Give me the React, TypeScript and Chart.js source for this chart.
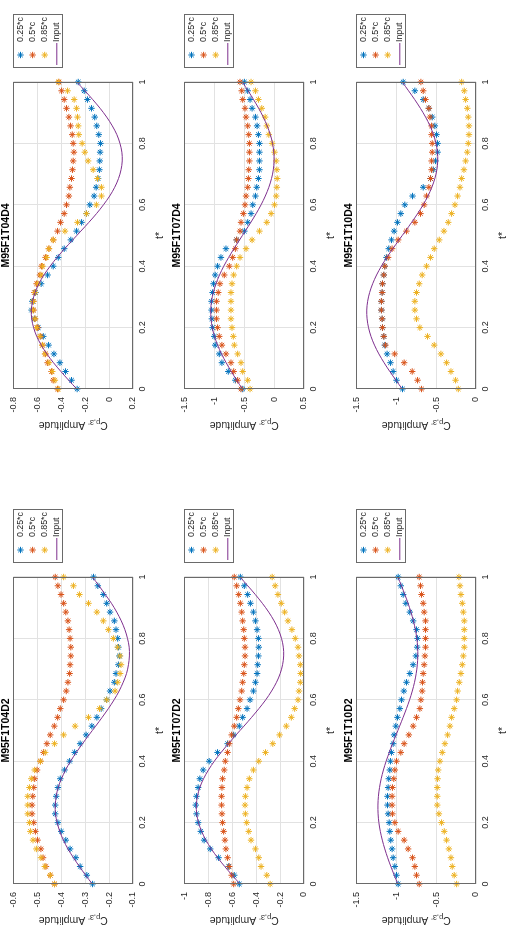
import React, { useEffect, useRef } from 'react';
import { Chart, registerables } from 'chart.js';
import { drawPoint } from 'chart.js/helpers';

Chart.register(...registerables);

// ---------------- data ----------------
const T = [0, 0.0286, 0.0571, 0.0857, 0.1143, 0.1429, 0.1714, 0.2, 0.2286, 0.2571, 0.2857, 0.3143, 0.3429, 0.3714, 0.4, 0.4286, 0.4571, 0.4857, 0.5143, 0.5429, 0.5714, 0.6, 0.6286, 0.6571, 0.6857, 0.7143, 0.7429, 0.7714, 0.8, 0.8286, 0.8571, 0.8857, 0.9143, 0.9429, 0.9714, 1];

const SERIES_LABELS = ['0.25*c', '0.5*c', '0.85*c', 'Input'];
const X_LABEL = 't*';
const Y_LABEL_MAIN = 'C';
const Y_LABEL_SUB = "p,3'";
const Y_LABEL_TAIL = ' Amplitude';
const X_TICKS = [0, 0.2, 0.4, 0.6, 0.8, 1];

// M95F1T04D2
const T04D2_025 = [-0.269, -0.293, -0.321, -0.339, -0.363, -0.381, -0.4, -0.414, -0.425, -0.425, -0.421, -0.414, -0.404, -0.386, -0.365, -0.344, -0.321, -0.296, -0.272, -0.251, -0.233, -0.21, -0.196, -0.178, -0.171, -0.161, -0.157, -0.161, -0.164, -0.171, -0.178, -0.196, -0.21, -0.224, -0.247, -0.265];
const T04D2_050 = [-0.428, -0.446, -0.464, -0.476, -0.485, -0.499, -0.508, -0.515, -0.522, -0.522, -0.519, -0.515, -0.511, -0.501, -0.487, -0.474, -0.46, -0.446, -0.429, -0.415, -0.404, -0.39, -0.379, -0.372, -0.365, -0.363, -0.36, -0.36, -0.363, -0.367, -0.372, -0.381, -0.39, -0.401, -0.414, -0.425];
const T04D2_085 = [-0.428, -0.446, -0.469, -0.485, -0.504, -0.518, -0.529, -0.533, -0.54, -0.54, -0.54, -0.533, -0.525, -0.511, -0.487, -0.467, -0.428, -0.39, -0.342, -0.286, -0.24, -0.21, -0.175, -0.164, -0.154, -0.15, -0.154, -0.164, -0.182, -0.203, -0.224, -0.251, -0.286, -0.324, -0.349, -0.39];
const T04D2_IN = [-0.27, -0.298, -0.324, -0.349, -0.372, -0.391, -0.406, -0.417, -0.424, -0.425, -0.421, -0.413, -0.399, -0.382, -0.361, -0.337, -0.311, -0.284, -0.256, -0.229, -0.203, -0.179, -0.158, -0.141, -0.127, -0.119, -0.115, -0.116, -0.123, -0.134, -0.149, -0.168, -0.19, -0.216, -0.242, -0.27];

// M95F1T07D2
const T07D2_025 = [-0.541, -0.583, -0.63, -0.714, -0.784, -0.835, -0.863, -0.885, -0.899, -0.905, -0.899, -0.885, -0.871, -0.843, -0.793, -0.723, -0.639, -0.588, -0.541, -0.513, -0.476, -0.451, -0.423, -0.406, -0.392, -0.387, -0.381, -0.378, -0.381, -0.392, -0.406, -0.423, -0.448, -0.471, -0.499, -0.532];
const T07D2_050 = [-0.588, -0.605, -0.625, -0.639, -0.653, -0.661, -0.672, -0.681, -0.686, -0.689, -0.689, -0.686, -0.681, -0.667, -0.658, -0.639, -0.625, -0.605, -0.583, -0.563, -0.549, -0.535, -0.521, -0.513, -0.504, -0.499, -0.493, -0.493, -0.499, -0.504, -0.513, -0.521, -0.532, -0.546, -0.563, -0.583];
const T07D2_085 = [-0.283, -0.311, -0.359, -0.378, -0.406, -0.443, -0.462, -0.479, -0.49, -0.493, -0.49, -0.476, -0.457, -0.423, -0.378, -0.322, -0.261, -0.204, -0.148, -0.106, -0.078, -0.05, -0.042, -0.031, -0.028, -0.031, -0.042, -0.05, -0.073, -0.101, -0.134, -0.162, -0.19, -0.218, -0.241, -0.266];
const T07D2_IN = [-0.535, -0.6, -0.663, -0.722, -0.775, -0.82, -0.856, -0.882, -0.897, -0.9, -0.891, -0.871, -0.84, -0.799, -0.75, -0.693, -0.632, -0.568, -0.502, -0.438, -0.377, -0.32, -0.271, -0.23, -0.199, -0.179, -0.17, -0.173, -0.188, -0.214, -0.25, -0.295, -0.348, -0.407, -0.47, -0.535];

// M95F1T10D2
const T10D2_025 = [-0.976, -0.997, -1.018, -1.039, -1.052, -1.069, -1.081, -1.089, -1.102, -1.11, -1.11, -1.102, -1.094, -1.081, -1.073, -1.06, -1.039, -1.027, -1.006, -0.985, -0.955, -0.934, -0.905, -0.872, -0.83, -0.788, -0.754, -0.738, -0.733, -0.746, -0.788, -0.83, -0.88, -0.913, -0.943, -0.976];
const T10D2_050 = [-0.712, -0.746, -0.767, -0.796, -0.851, -0.901, -0.976, -1.018, -1.048, -1.052, -1.052, -1.048, -1.031, -1.018, -0.997, -0.943, -0.901, -0.842, -0.788, -0.746, -0.704, -0.691, -0.675, -0.671, -0.662, -0.65, -0.641, -0.633, -0.633, -0.633, -0.633, -0.65, -0.662, -0.683, -0.696, -0.712];
const T10D2_085 = [-0.243, -0.273, -0.298, -0.314, -0.34, -0.369, -0.398, -0.432, -0.465, -0.486, -0.486, -0.486, -0.482, -0.474, -0.453, -0.423, -0.39, -0.356, -0.327, -0.306, -0.273, -0.243, -0.231, -0.21, -0.189, -0.172, -0.159, -0.147, -0.147, -0.147, -0.147, -0.159, -0.172, -0.189, -0.201, -0.214];
const T10D2_IN = [-0.98, -1.025, -1.068, -1.108, -1.144, -1.175, -1.2, -1.218, -1.228, -1.23, -1.224, -1.21, -1.189, -1.161, -1.127, -1.088, -1.047, -1.002, -0.958, -0.914, -0.872, -0.833, -0.799, -0.771, -0.75, -0.736, -0.73, -0.732, -0.742, -0.76, -0.785, -0.816, -0.852, -0.892, -0.935, -0.98];

// M95F1T04D4
const T04D4_025 = [-0.267, -0.314, -0.364, -0.411, -0.461, -0.506, -0.55, -0.592, -0.625, -0.648, -0.642, -0.615, -0.568, -0.514, -0.467, -0.425, -0.375, -0.32, -0.272, -0.23, -0.189, -0.161, -0.125, -0.108, -0.092, -0.081, -0.078, -0.075, -0.072, -0.086, -0.103, -0.12, -0.147, -0.181, -0.208, -0.258];
const T04D4_050 = [-0.431, -0.467, -0.481, -0.514, -0.531, -0.556, -0.572, -0.597, -0.619, -0.631, -0.633, -0.625, -0.606, -0.578, -0.564, -0.531, -0.503, -0.467, -0.431, -0.406, -0.375, -0.356, -0.336, -0.328, -0.314, -0.306, -0.3, -0.294, -0.3, -0.308, -0.322, -0.336, -0.356, -0.375, -0.397, -0.419];
const T04D4_085 = [-0.425, -0.453, -0.475, -0.503, -0.536, -0.558, -0.578, -0.606, -0.619, -0.636, -0.633, -0.619, -0.597, -0.569, -0.556, -0.522, -0.503, -0.467, -0.369, -0.264, -0.189, -0.106, -0.064, -0.064, -0.097, -0.133, -0.175, -0.203, -0.225, -0.253, -0.258, -0.264, -0.272, -0.292, -0.347, -0.425];
const T04D4_IN = [-0.27, -0.338, -0.403, -0.465, -0.52, -0.567, -0.605, -0.631, -0.647, -0.65, -0.64, -0.619, -0.587, -0.545, -0.493, -0.435, -0.371, -0.304, -0.236, -0.169, -0.105, -0.047, 0.005, 0.047, 0.079, 0.1, 0.11, 0.107, 0.091, 0.065, 0.027, -0.02, -0.075, -0.137, -0.202, -0.27];

// M95F1T07D4
const T07D4_025 = [-0.525, -0.648, -0.766, -0.873, -0.917, -0.985, -1.001, -1.029, -1.041, -1.046, -1.046, -1.029, -1.013, -0.985, -0.945, -0.889, -0.805, -0.626, -0.497, -0.441, -0.385, -0.357, -0.312, -0.29, -0.262, -0.245, -0.245, -0.245, -0.245, -0.262, -0.284, -0.312, -0.368, -0.402, -0.441, -0.497];
const T07D4_050 = [-0.553, -0.609, -0.676, -0.721, -0.805, -0.873, -0.917, -0.945, -0.962, -0.962, -0.962, -0.934, -0.906, -0.833, -0.749, -0.693, -0.648, -0.626, -0.57, -0.553, -0.514, -0.486, -0.469, -0.441, -0.43, -0.424, -0.413, -0.413, -0.413, -0.424, -0.441, -0.469, -0.486, -0.525, -0.542, -0.57];
const T07D4_085 = [-0.402, -0.441, -0.525, -0.553, -0.609, -0.665, -0.682, -0.704, -0.721, -0.721, -0.721, -0.721, -0.704, -0.676, -0.626, -0.57, -0.469, -0.368, -0.245, -0.122, -0.049, 0.007, 0.035, 0.046, 0.052, 0.046, 0.035, 0.007, -0.032, -0.088, -0.122, -0.15, -0.206, -0.262, -0.312, -0.385];
const T07D4_IN = [-0.53, -0.625, -0.716, -0.802, -0.879, -0.944, -0.997, -1.034, -1.055, -1.059, -1.047, -1.017, -0.972, -0.913, -0.842, -0.76, -0.671, -0.577, -0.483, -0.389, -0.3, -0.218, -0.147, -0.088, -0.043, -0.013, -0.001, -0.005, -0.026, -0.063, -0.116, -0.181, -0.258, -0.344, -0.435, -0.53];

// M95F1T10D4
const T10D4_025 = [-0.922, -0.997, -1.039, -1.073, -1.115, -1.144, -1.156, -1.173, -1.177, -1.186, -1.186, -1.177, -1.173, -1.156, -1.144, -1.123, -1.094, -1.06, -1.027, -0.985, -0.943, -0.893, -0.796, -0.662, -0.57, -0.536, -0.507, -0.482, -0.482, -0.495, -0.516, -0.549, -0.591, -0.662, -0.767, -0.913];
const T10D4_050 = [-0.683, -0.733, -0.8, -0.901, -1.02, -1.136, -1.156, -1.173, -1.177, -1.186, -1.186, -1.177, -1.173, -1.156, -1.144, -1.102, -1.052, -0.976, -0.872, -0.767, -0.696, -0.65, -0.62, -0.591, -0.57, -0.557, -0.557, -0.549, -0.549, -0.557, -0.557, -0.578, -0.591, -0.633, -0.662, -0.691];
const T10D4_085 = [-0.222, -0.256, -0.314, -0.369, -0.44, -0.524, -0.608, -0.704, -0.746, -0.767, -0.767, -0.746, -0.712, -0.675, -0.62, -0.57, -0.524, -0.461, -0.402, -0.348, -0.306, -0.264, -0.231, -0.201, -0.18, -0.151, -0.13, -0.109, -0.097, -0.088, -0.088, -0.097, -0.109, -0.13, -0.147, -0.18];
const T10D4_IN = [-0.925, -1.004, -1.081, -1.153, -1.218, -1.273, -1.317, -1.348, -1.366, -1.37, -1.359, -1.334, -1.296, -1.247, -1.187, -1.118, -1.043, -0.965, -0.885, -0.807, -0.732, -0.663, -0.603, -0.554, -0.516, -0.491, -0.48, -0.484, -0.502, -0.533, -0.577, -0.632, -0.697, -0.769, -0.846, -0.925];

// panel definitions (axis ranges per subplot)
const PANELS = [
  { title: 'M95F1T04D2', s: [T04D2_025, T04D2_050, T04D2_085], input: T04D2_IN, yMin: -0.6, yMax: -0.1, yStep: 0.1, col: 0, row: 0 },
  { title: 'M95F1T07D2', s: [T07D2_025, T07D2_050, T07D2_085], input: T07D2_IN, yMin: -1, yMax: 0, yStep: 0.2, col: 0, row: 1 },
  { title: 'M95F1T10D2', s: [T10D2_025, T10D2_050, T10D2_085], input: T10D2_IN, yMin: -1.5, yMax: 0, yStep: 0.5, col: 0, row: 2 },
  { title: 'M95F1T04D4', s: [T04D4_025, T04D4_050, T04D4_085], input: T04D4_IN, yMin: -0.8, yMax: 0.2, yStep: 0.2, col: 1, row: 0 },
  { title: 'M95F1T07D4', s: [T07D4_025, T07D4_050, T07D4_085], input: T07D4_IN, yMin: -1.5, yMax: 0.5, yStep: 0.5, col: 1, row: 1 },
  { title: 'M95F1T10D4', s: [T10D4_025, T10D4_050, T10D4_085], input: T10D4_IN, yMin: -1.5, yMax: 0, yStep: 0.5, col: 1, row: 2 },
];

// ---------------- styles ----------------
const FONT = "'Liberation Sans', Arial, Helvetica, sans-serif";
const COLORS = ['#0072BD', '#D95319', '#EDB120'];
const INPUT_COLOR = '#7E2F8E';
const TEXT = '#262626';
const BOX = '#6a6a6a';
const GRID = '#e2e2e2';

const FIG_W = 930;
const FIG_H = 511;
const CANVAS_W = 465;
const CANVAS_H = 168;
const ROW_TOP = [0, 171, 343];
const PLOT_LEFT = [46, 76];
const PLOT_W = 307;
const PLOT_TOP = 13;
const PLOT_H = 120;

const TICK_SIZE = 9;
const LABEL_SIZE = 10.5;
const TITLE_SIZE = 10.5;
const LEGEND_SIZE = 8.8;

const fmt = (v: number) => String(Number(Number(v).toFixed(2)));

const framePlugin = {
  id: 'frame',
  afterDraw(chart: any) {
    const { ctx, chartArea: a } = chart;
    ctx.save();
    ctx.strokeStyle = BOX;
    ctx.lineWidth = 1;
    ctx.strokeRect(Math.round(a.left) + 0.5, Math.round(a.top) + 0.5, Math.round(a.right - a.left) - 1, Math.round(a.bottom - a.top) - 1);
    ctx.restore();
  },
};

const yLabelPlugin = {
  id: 'ylab',
  afterDraw(chart: any) {
    const { ctx, chartArea: a } = chart;
    const cx = a.left - 37;
    const cy = (a.top + a.bottom) / 2;
    ctx.save();
    ctx.translate(cx, cy);
    ctx.rotate(-Math.PI / 2);
    const main = `${LABEL_SIZE}px ${FONT}`;
    const sub = `${LABEL_SIZE * 0.72}px ${FONT}`;
    ctx.font = main;
    const w1 = ctx.measureText(Y_LABEL_MAIN).width;
    const w3 = ctx.measureText(Y_LABEL_TAIL).width;
    ctx.font = sub;
    const w2 = ctx.measureText(Y_LABEL_SUB).width;
    let x = -(w1 + w2 + w3) / 2;
    const base = LABEL_SIZE * 0.36;
    ctx.fillStyle = TEXT;
    ctx.textBaseline = 'alphabetic';
    ctx.textAlign = 'left';
    ctx.font = main;
    ctx.fillText(Y_LABEL_MAIN, x, base);
    x += w1;
    ctx.font = sub;
    ctx.fillText(Y_LABEL_SUB, x, base + LABEL_SIZE * 0.25);
    x += w2;
    ctx.font = main;
    ctx.fillText(Y_LABEL_TAIL, x, base);
    ctx.restore();
  },
};

const legendPlugin = {
  id: 'boxlegend',
  afterDraw(chart: any) {
    const { ctx, chartArea: a } = chart;
    const left = Math.round(a.right) + 14;
    const top = Math.round(a.top);
    const w = 54;
    const h = 50;
    ctx.save();
    ctx.fillStyle = '#ffffff';
    ctx.fillRect(left, top, w, h);
    ctx.strokeStyle = BOX;
    ctx.lineWidth = 1;
    ctx.strokeRect(left + 0.5, top + 0.5, w - 1, h - 1);
    const dsets = chart.data.datasets;
    dsets.forEach((ds: any, i: number) => {
      const y = top + 7.5 + i * 12.1;
      if (ds.showLine) {
        ctx.strokeStyle = ds.borderColor;
        ctx.lineWidth = 1;
        ctx.beginPath();
        ctx.moveTo(left + 3, y);
        ctx.lineTo(left + 25, y);
        ctx.stroke();
      } else {
        ctx.strokeStyle = ds.borderColor;
        ctx.fillStyle = ds.borderColor;
        ctx.lineWidth = 1;
        drawPoint(ctx, { pointStyle: ds.pointStyle, radius: ds.pointRadius, rotation: 0, borderWidth: 1 }, left + 13, y);
      }
      ctx.fillStyle = TEXT;
      ctx.font = `${LEGEND_SIZE}px ${FONT}`;
      ctx.textBaseline = 'middle';
      ctx.textAlign = 'left';
      ctx.fillText(ds.label, left + 26, y);
    });
    ctx.restore();
  },
};

function Panel({ p }: { p: any }) {
  const ref = useRef<HTMLCanvasElement | null>(null);
  useEffect(() => {
    if (!ref.current) return;
    const plotLeft = PLOT_LEFT[p.col];
    const datasets: any[] = p.s.map((arr: number[], i: number) => ({
      label: SERIES_LABELS[i],
      data: T.map((t, k) => ({ x: t, y: arr[k] })),
      showLine: false,
      pointStyle: 'star',
      pointRadius: 3.2,
      pointHoverRadius: 3.2,
      pointBorderWidth: 1,
      borderColor: COLORS[i],
      backgroundColor: COLORS[i],
      clip: false,
      order: 3 - i,
    }));
    datasets.push({
      label: SERIES_LABELS[3],
      data: T.map((t, k) => ({ x: t, y: p.input[k] })),
      showLine: true,
      pointRadius: 0,
      borderColor: INPUT_COLOR,
      borderWidth: 1,
      tension: 0.35,
      clip: false,
      order: 0,
    });
    const chart = new Chart(ref.current, {
      type: 'scatter',
      data: { datasets },
      plugins: [framePlugin, yLabelPlugin, legendPlugin],
      options: {
        animation: false,
        responsive: false,
        events: [],
        layout: { padding: { left: 0, top: 0, right: CANVAS_W - plotLeft - PLOT_W, bottom: 0 } },
        plugins: {
          legend: { display: false },
          tooltip: { enabled: false },
          title: {
            display: true,
            text: p.title,
            fullSize: false,
            color: '#000',
            font: { family: FONT, size: TITLE_SIZE, weight: 'bold', lineHeight: 1 },
            padding: { top: 0, bottom: PLOT_TOP - TITLE_SIZE },
          },
        },
        scales: {
          x: {
            type: 'linear',
            min: 0,
            max: 1,
            afterBuildTicks: (axis: any) => { axis.ticks = X_TICKS.map((v) => ({ value: v })); },
            afterFit: (axis: any) => { axis.height = CANVAS_H - PLOT_TOP - PLOT_H; },
            ticks: { color: TEXT, font: { family: FONT, size: TICK_SIZE }, padding: 4, maxRotation: 0, callback: (v: any) => fmt(v) },
            grid: { color: GRID, drawTicks: false, lineWidth: 1 },
            border: { display: false },
            title: { display: true, text: X_LABEL, color: TEXT, font: { family: FONT, size: LABEL_SIZE }, padding: { top: 0, bottom: 1.7 } },
          },
          y: {
            type: 'linear',
            reverse: true,
            min: p.yMin,
            max: p.yMax,
            ticks: { stepSize: p.yStep, color: TEXT, font: { family: FONT, size: TICK_SIZE }, padding: 8, callback: (v: any) => fmt(v) },
            afterFit: (axis: any) => { axis.width = plotLeft; },
            grid: { color: GRID, drawTicks: false, lineWidth: 1 },
            border: { display: false },
          },
        },
      } as any,
    });
    return () => chart.destroy();
  }, [p]);
  return (
    <canvas
      ref={ref}
      width={CANVAS_W}
      height={CANVAS_H}
      style={{ position: 'absolute', left: p.col * CANVAS_W, top: ROW_TOP[p.row], width: CANVAS_W, height: CANVAS_H }}
    />
  );
}

export default function App() {
  return (
    <div style={{ position: 'fixed', left: 0, top: 0, width: FIG_H, height: FIG_W, overflow: 'hidden', background: '#fff' }}>
      <div
        style={{
          position: 'absolute',
          left: 0,
          top: 0,
          width: FIG_W,
          height: FIG_H,
          transformOrigin: '0 0',
          transform: `translate(0px, ${FIG_W}px) rotate(-90deg)`,
          background: '#fff',
        }}
      >
        {PANELS.map((p) => (
          <Panel key={p.title} p={p} />
        ))}
      </div>
    </div>
  );
}
